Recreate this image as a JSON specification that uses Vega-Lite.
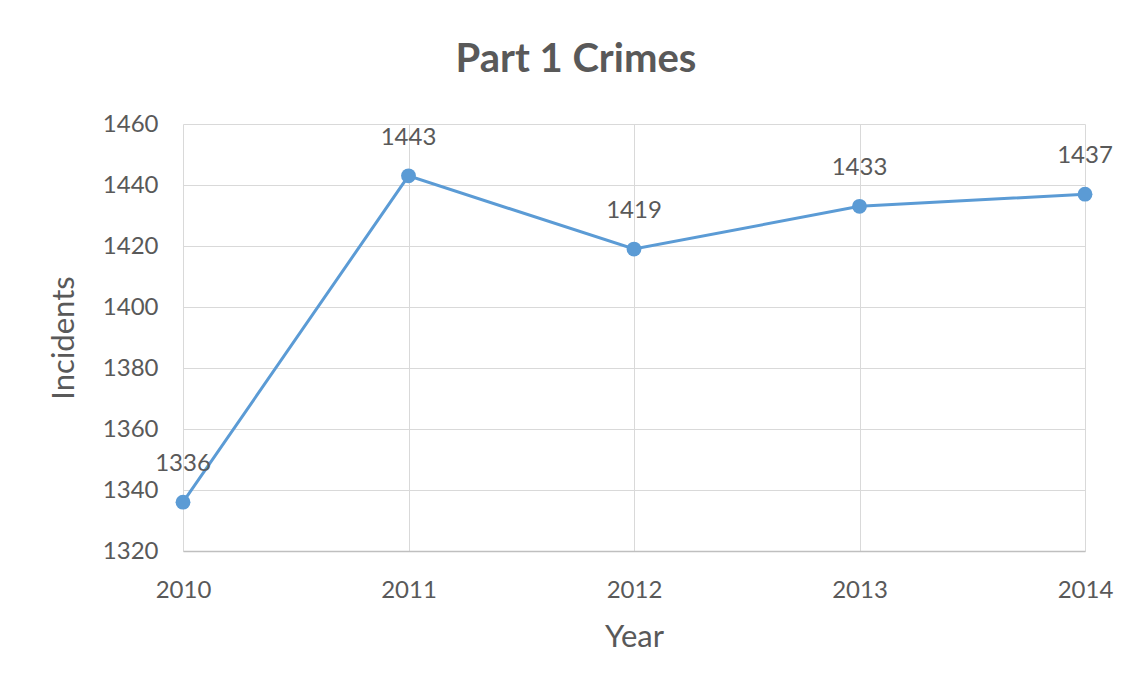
{
  "$schema": "https://vega.github.io/schema/vega-lite/v6.json",
  "autosize": {"type": "none"},
  "width": 902,
  "height": 427,
  "padding": {"left": 183, "top": 124, "right": 56, "bottom": 147},
  "background": "white",
  "title": {
    "text": "Part 1 Crimes",
    "font": "Lato",
    "fontSize": 40,
    "fontWeight": "bold",
    "color": "#595959",
    "anchor": "middle",
    "dx": -58,
    "offset": 32
  },
  "data": {
    "values": [
      {"year": 2010, "incidents": 1336},
      {"year": 2011, "incidents": 1443},
      {"year": 2012, "incidents": 1419},
      {"year": 2013, "incidents": 1433},
      {"year": 2014, "incidents": 1437}
    ]
  },
  "encoding": {
    "x": {
      "field": "year",
      "type": "quantitative",
      "scale": {"domain": [2010, 2014], "nice": false, "zero": false},
      "axis": {
        "title": "Year",
        "values": [2010, 2011, 2012, 2013, 2014],
        "format": "d",
        "labelFlush": false,
        "grid": true,
        "gridColor": "#D9D9D9",
        "domainColor": "#BFBFBF",
        "domainWidth": 1.5,
        "ticks": false,
        "labelFont": "Lato",
        "labelFontSize": 24,
        "labelColor": "#595959",
        "labelPadding": 27,
        "titleFont": "Lato",
        "titleFontSize": 31,
        "titleFontWeight": "normal",
        "titleColor": "#595959",
        "titlePadding": 20
      }
    },
    "y": {
      "field": "incidents",
      "type": "quantitative",
      "scale": {"domain": [1320, 1460], "nice": false, "zero": false},
      "axis": {
        "title": "Incidents",
        "values": [1320, 1340, 1360, 1380, 1400, 1420, 1440, 1460],
        "format": "d",
        "labelFlush": false,
        "grid": true,
        "gridColor": "#D9D9D9",
        "domain": false,
        "ticks": false,
        "labelFont": "Lato",
        "labelFontSize": 24,
        "labelColor": "#595959",
        "labelPadding": 25,
        "titleFont": "Lato",
        "titleFontSize": 31,
        "titleFontWeight": "normal",
        "titleColor": "#595959",
        "titlePadding": 22
      }
    }
  },
  "layer": [
    {
      "mark": {"type": "line", "color": "#5B9BD5", "strokeWidth": 3},
      "encoding": {}
    },
    {
      "mark": {"type": "point", "filled": true, "color": "#5B9BD5", "size": 220, "opacity": 1},
      "encoding": {}
    },
    {
      "mark": {"type": "text", "font": "Lato", "fontSize": 24, "color": "#595959", "dy": -38, "baseline": "middle"},
      "encoding": {"text": {"field": "incidents", "type": "quantitative", "format": "d"}}
    }
  ],
  "config": {
    "view": {"stroke": null}
  }
}
